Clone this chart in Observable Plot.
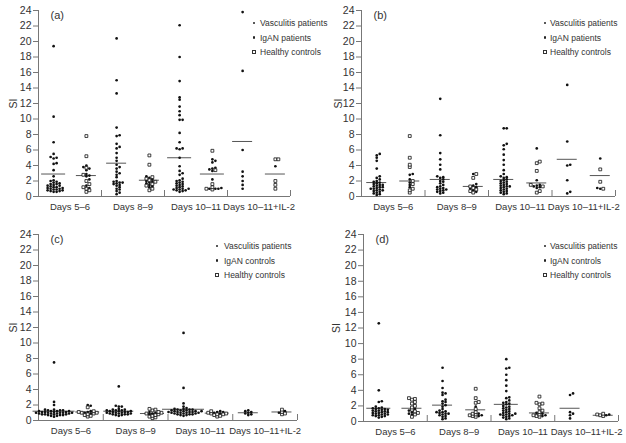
<!DOCTYPE html>
<html><head><meta charset="utf-8">
<script src="https://cdn.jsdelivr.net/npm/d3@7"></script>
<script src="https://cdn.jsdelivr.net/npm/@observablehq/plot@0.6"></script>
<style>
body{margin:0;background:#fff;}
#wrap{position:relative;width:626px;height:443px;font-family:"Liberation Sans",Arial,Helvetica,sans-serif;color:#333;overflow:hidden;}
.panel{position:absolute;}
.panel svg{overflow:visible;}
.leg{position:absolute;font-size:8.5px;line-height:10px;white-space:nowrap;color:#333;}
.mk{position:absolute;box-sizing:border-box;}
</style></head><body><div id="wrap"></div>
<script>
const cats = ["Days 5\u20136", "Days 8\u20139", "Days 10\u201311", "Days 10\u201311+IL-2"];
const yTicks = [0,2,4,6,8,10,12,14,16,18,20,22,24];

// Panel (a)
const aVasc = [
  [19.4,10.3,7.0,5.5,5.1,5.0,4.9,4.3,4.2,3.4,2.6,2.1,2.0,1.9,1.8,1.7,1.6,1.6,1.5,1.4,1.4,1.3,1.2,1.2,1.1,1.1,1.0,1.0,0.9,0.9,0.8,0.8,0.7,0.7,0.6,0.6],
  [20.4,15.0,13.3,8.9,7.9,7.8,6.8,6.4,6.2,5.6,5.0,4.6,4.1,3.8,3.6,3.2,3.0,2.8,2.5,2.0,1.9,1.8,1.8,1.7,1.6,1.5,1.4,1.2,1.0,0.9,0.7,0.5,0.3],
  [22.1,18.0,14.9,12.8,12.5,11.6,11.0,10.5,9.9,9.9,8.2,7.0,6.2,6.2,6.1,5.0,3.9,3.3,3.0,2.8,2.3,2.1,2.0,1.9,1.8,1.7,1.6,1.5,1.4,1.3,1.2,1.1,1.0,1.0,0.9,0.9,0.8,0.8,0.7,0.6],
  [23.8,16.2,6.0,3.2,2.6,2.0,1.5,1.0]
];
const aIgan = [
  [4.0,3.8,3.6,3.4,2.9,2.7,2.6,2.2,1.4,1.1],
  [2.6,2.4,2.2,2.0,1.9,1.8,1.7,1.5,1.3,1.2],
  [4.8,4.6,4.4,3.7,3.6,3.5,3.3,2.2,1.1,1.0,1.0,1.0],
  [3.9]
];
const aHealthy = [
  [7.8,5.2,3.7,2.8,2.0,1.6,1.2,1.0,0.8,0.6],
  [5.3,4.1,2.5,2.3,2.1,1.9,1.6,1.4,1.0,0.8],
  [5.9,3.4,1.6,1.2,1.0,0.9],
  [4.8,4.8,2.0,1.5,1.0]
];
const aVascMean = [2.9, 4.3, 5.0, 7.1];
const aCtrlMean = [2.7, 2.1, 2.9, 2.9];

// Panel (b)
const bVasc = [
  [5.5,5.3,5.0,4.6,3.6,2.6,2.4,2.2,2.0,1.9,1.8,1.7,1.6,1.5,1.5,1.4,1.3,1.2,1.2,1.1,1.0,1.0,0.9,0.8,0.8,0.7,0.6,0.5,0.4,0.3,0.2],
  [12.6,7.9,5.6,4.8,4.1,3.5,2.6,2.5,2.4,2.2,2.0,1.9,1.7,1.5,1.3,1.2,1.1,1.0,0.9,0.9,0.8,0.7,0.6,0.5,0.4],
  [8.8,8.8,6.8,6.6,6.1,5.4,4.7,4.1,3.4,2.9,2.6,2.5,2.4,2.2,2.1,2.0,1.9,1.8,1.7,1.6,1.5,1.4,1.3,1.3,1.2,1.1,1.0,0.9,0.8,0.7,0.6,0.5,0.4,0.3],
  [14.4,7.1,4.1,4.0,2.1,0.6,0.4]
];
const bIgan = [
  [2.9,2.8,2.2,1.8,1.5,1.2],
  [2.9,1.6,1.4,1.2,1.0,0.8,0.6],
  [6.2,2.1,1.5,1.4,1.3,1.2,1.1],
  [4.9,1.1,1.0]
];
const bHealthy = [
  [7.8,5.0,4.1,3.8,2.0,1.6,1.0,0.8,0.5],
  [2.9,2.4,1.3,1.1,0.9,0.7,0.5],
  [4.5,4.3,3.3,1.5,1.3,0.7,0.5],
  [3.5,1.9,1.0]
];
const bVascMean = [1.8, 2.2, 2.2, 4.8];
const bCtrlMean = [2.0, 1.3, 1.75, 2.7];

// Panel (c)
const cVasc = [
  [7.5,2.4,2.0,1.4,1.4,1.3,1.3,1.3,1.2,1.2,1.2,1.2,1.1,1.1,1.1,1.1,1.0,1.0,1.0,1.0,1.0,0.9,0.9,0.9,0.9,0.8,0.8,0.8,0.8,0.7,0.7,0.7,0.6,0.6,0.5],
  [4.4,1.9,1.8,1.8,1.5,1.4,1.4,1.3,1.3,1.3,1.2,1.2,1.2,1.1,1.1,1.1,1.0,1.0,1.0,0.9,0.9,0.9,0.8,0.8,0.8,0.7,0.7,0.6],
  [11.3,4.2,2.2,1.8,1.6,1.5,1.5,1.4,1.4,1.4,1.3,1.3,1.3,1.2,1.2,1.2,1.2,1.1,1.1,1.1,1.1,1.0,1.0,1.0,1.0,0.9,0.9,0.9,0.8,0.8,0.8,0.7,0.7,0.6],
  [1.3,1.2,1.1,1.0,0.9,0.8,0.7]
];
const cIgan = [
  [2.0,1.9,1.2,1.1,1.0,0.9],
  [1.1,1.0,0.9,0.8],
  [1.2,1.1,1.1,1.0,0.9],
  [1.2,1.0]
];
const cHealthy = [
  [1.7,1.2,1.1,1.0,1.0,0.9,0.8,0.7,0.6,0.5],
  [1.5,1.4,1.3,1.1,1.0,0.9,0.8,0.7,0.6,0.5,0.4,0.3],
  [1.2,1.0,0.9,0.9,0.8,0.8,0.7,0.6,0.5],
  [1.4,1.1,0.9,0.8]
];
const cVascMean = [1.2, 1.2, 1.45, 1.0];
const cCtrlMean = [1.1, 0.9, 0.95, 1.1];

// Panel (d)
const dVasc = [
  [12.6,4.0,2.6,2.5,1.9,1.8,1.7,1.7,1.6,1.6,1.5,1.5,1.4,1.4,1.3,1.3,1.2,1.2,1.1,1.1,1.0,1.0,0.9,0.9,0.8,0.8,0.7,0.7,0.6,0.5],
  [6.9,5.2,4.3,3.7,3.6,3.4,2.8,2.6,2.5,2.3,2.1,1.9,1.6,1.4,1.3,1.2,1.2,1.1,1.0,1.0,0.9,0.8,0.7,0.6,0.4,0.3],
  [8.0,6.9,6.8,6.0,5.3,4.6,3.9,3.1,3.0,2.7,2.5,2.4,2.3,2.2,2.0,1.9,1.8,1.7,1.6,1.5,1.4,1.3,1.2,1.1,1.0,1.0,0.9,0.9,0.8,0.8,0.7,0.6,0.5,0.4,0.3],
  [3.6,3.4,1.2,1.0,0.8,0.4]
];
const dIgan = [
  [1.6,1.4,1.2,1.0,0.9],
  [1.9,1.0,0.8,0.7],
  [1.1,1.0,0.8,0.7],
  [0.9,0.8]
];
const dHealthy = [
  [3.0,2.9,2.8,2.5,2.3,2.0,1.8,1.5,1.3,1.1,0.9,0.6],
  [4.2,3.0,2.5,2.4,1.6,1.2,1.0,0.9,0.8,0.7,0.6],
  [3.2,2.4,2.3,2.2,1.7,1.4,1.2,0.9,0.8,0.7,0.6],
  [1.0,0.9,0.8,0.7]
];
const dVascMean = [1.7, 2.1, 2.2, 1.7];
const dCtrlMean = [1.7, 1.5, 1.1, 0.8];

const legendAB = ["Vasculitis patients", "IgAN patients", "Healthy controls"];
const legendCD = ["Vasculitis patients", "IgAN controls", "Healthy controls"];

const wrap = document.getElementById("wrap");

// deterministic beeswarm layout: sideways offset (in px) so dots do not sit on top of each other
function swarm(items, cx, pxX, pxY) {
  items.sort((p, q) => p.v - q.v);
  const placed = [];
  let maxOff = 0;
  for (const it of items) {
    const y = it.v * pxY;
    let off = 0;
    for (let k = 0; k < 400; k++) {
      const o = k === 0 ? 0 : (k % 2 ? 1 : -1) * Math.ceil(k / 2) * 0.5;
      let ok = true;
      for (const p of placed) {
        if (Math.abs(p.off - o) < 3.0 && Math.abs(p.y - y) < 1.6) { ok = false; break; }
      }
      if (ok) { off = o; break; }
    }
    placed.push({off, y});
    maxOff = Math.max(maxOff, Math.abs(off));
    it.x = cx + off / pxX;
  }
  return {items, maxOff};
}

function panel(cfg) {
  const {vasc, igan, healthy, vMean, cMean, letter, legend, left, top, width, height, m, leg, siOff} = cfg;
  const innerW = width - m[3] - m[1];
  const innerH = height - m[0] - m[2];
  const pxX = innerW / 4, pxY = innerH / 24;
  const pts = [], means = [];
  for (let i = 0; i < 4; i++) {
    const cv = i + 0.24, cc = i + 0.76;
    const s1 = swarm(vasc[i].map(v => ({v, kind: "vasc"})), cv, pxX, pxY);
    const s2 = swarm([...igan[i].map(v => ({v, kind: "igan"})), ...healthy[i].map(v => ({v, kind: "healthy"}))], cc, pxX, pxY);
    pts.push(...s1.items, ...s2.items);
    const h1 = Math.max(10, s1.maxOff + 3) / pxX, h2 = Math.max(10, s2.maxOff + 3) / pxX;
    means.push({y: vMean[i], x1: cv - h1, x2: cv + h1});
    means.push({y: cMean[i], x1: cc - h2, x2: cc + h2});
  }
  const svg = Plot.plot({
    width, height,
    marginTop: m[0], marginRight: m[1], marginBottom: m[2], marginLeft: m[3],
    style: {fontFamily: '"Liberation Sans", Arial, Helvetica, sans-serif', color: "#333", background: "transparent"},
    x: {domain: [0, 4], axis: null},
    y: {domain: [0, 24], axis: null},
    marks: [
      Plot.ruleX([0], {y1: 0, y2: 24, stroke: "#777", strokeWidth: 1}),
      Plot.axisY({ticks: yTicks, tickSize: 5, tickPadding: 2, fontSize: 10.5, stroke: "#777", fill: "#333",
        label: "SI", labelAnchor: "center", labelArrow: "none", labelOffset: siOff}),
      Plot.ruleY([0], {stroke: "#777", strokeWidth: 1}),
      Plot.ruleX([1, 2, 3, 4], {y1: 0, y2: 6 / pxY, stroke: "#777", strokeWidth: 1}),
      Plot.axisX({ticks: [0.5, 1.5, 2.5, 3.5], tickSize: 0, tickPadding: 7, fontSize: 9.5, fill: "#333",
        tickFormat: d => cats[Math.floor(d)], label: null}),
      Plot.ruleY(means, {y: "y", x1: "x1", x2: "x2", stroke: "#555", strokeWidth: 1}),
      Plot.dot(pts.filter(d => d.kind !== "healthy"), {x: "x", y: "v", r: 1.35, fill: "#111", stroke: "none"}),
      Plot.dot(pts.filter(d => d.kind === "healthy"), {x: "x", y: "v", symbol: "square", r: 1.6, fill: "#fff", stroke: "#111", strokeWidth: 0.8}),
      Plot.text([letter], {frameAnchor: "top-left", textAnchor: "start", lineAnchor: "middle", dx: 12, dy: 4.5, fontSize: 11, fill: "#333"})
    ]
  });
  const div = document.createElement("div");
  div.className = "panel";
  div.style.left = left + "px"; div.style.top = top + "px";
  div.appendChild(svg);
  wrap.appendChild(div);
  legend.forEach((t, k) => {
    const y = leg.y + k * 14.5;
    const mk = document.createElement("div");
    mk.className = "mk";
    if (k < 2) {
      Object.assign(mk.style, {left: (leg.mx - 1.2) + "px", top: (y - 1.2) + "px", width: "2.4px", height: "2.4px", borderRadius: "50%", background: "#222"});
    } else {
      Object.assign(mk.style, {left: (leg.mx - 1.6) + "px", top: (y - 1.6) + "px", width: "3.2px", height: "3.2px", border: "0.8px solid #333", background: "#fff"});
    }
    wrap.appendChild(mk);
    const tx = document.createElement("div");
    tx.className = "leg";
    tx.textContent = t;
    tx.style.left = leg.tx + "px"; tx.style.top = (y - 5) + "px";
    wrap.appendChild(tx);
  });
}

panel({vasc: aVasc, igan: aIgan, healthy: aHealthy, vMean: aVascMean, cMean: aCtrlMean, letter: "(a)", legend: legendAB,
  left: 0, top: 0, width: 313, height: 221, m: [10, 23, 25, 38], leg: {mx: 254, tx: 260, y: 23}, siOff: 29});
panel({vasc: bVasc, igan: bIgan, healthy: bHealthy, vMean: bVascMean, cMean: bCtrlMean, letter: "(b)", legend: legendAB,
  left: 313, top: 0, width: 313, height: 221, m: [10, 11, 25, 48], leg: {mx: 545, tx: 550, y: 23}, siOff: 27});
panel({vasc: cVasc, igan: cIgan, healthy: cHealthy, vMean: cVascMean, cMean: cCtrlMean, letter: "(c)", legend: legendCD,
  left: 0, top: 221, width: 313, height: 222, m: [13, 16, 23, 38], leg: {mx: 217, tx: 224, y: 246}, siOff: 29});
panel({vasc: dVasc, igan: dIgan, healthy: dHealthy, vMean: dVascMean, cMean: dCtrlMean, letter: "(d)", legend: legendCD,
  left: 313, top: 221, width: 313, height: 222, m: [13, 8, 22, 50], leg: {mx: 545, tx: 550, y: 246}, siOff: 31});
</script></body></html>
